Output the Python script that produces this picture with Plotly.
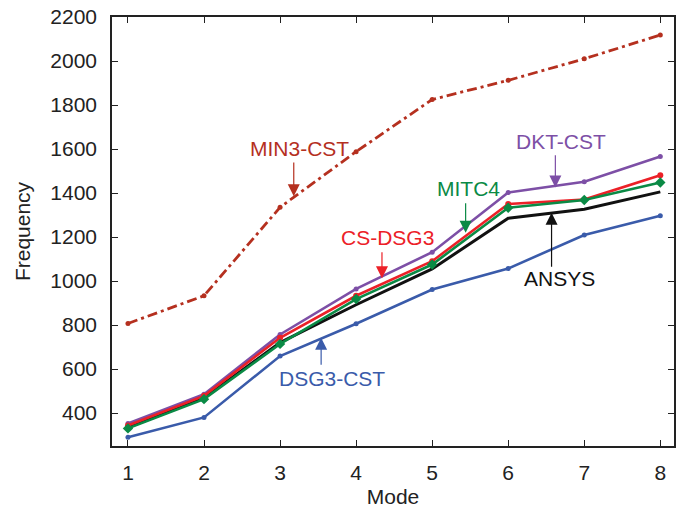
import plotly.graph_objects as go

modes = [1, 2, 3, 4, 5, 6, 7, 8]
min3_cst = [807, 933, 1335, 1588, 1825, 1912, 2010, 2118]
dkt_cst = [352, 485, 757, 964, 1131, 1402, 1451, 1566]
cs_dsg3 = [343, 478, 742, 933, 1090, 1350, 1370, 1481]
mitc4 = [330, 463, 714, 918, 1075, 1333, 1368, 1448]
ansys = [335, 468, 720, 892, 1055, 1285, 1326, 1405]
dsg3_cst = [290, 380, 659, 806, 961, 1057, 1209, 1297]

series = [
    ("MIN3-CST", min3_cst, "#B5301F", "10px,4px,3px,4px", "circle", 5, 2.8),
    ("ANSYS", ansys, "#111111", "solid", None, 0, 3.0),
    ("DSG3-CST", dsg3_cst, "#3A5BAA", "solid", "circle", 5, 2.6),
    ("DKT-CST", dkt_cst, "#7D4FA6", "solid", "circle", 5, 2.6),
    ("CS-DSG3", cs_dsg3, "#EC2027", "solid", "circle", 6, 2.6),
    ("MITC4", mitc4, "#0A8A45", "solid", "diamond", 8, 2.6),
]

fig = go.Figure()
for name, vals, col, dash, sym, ms, lw in series:
    mode = "lines+markers" if sym else "lines"
    fig.add_trace(go.Scatter(
        x=modes, y=vals, name=name, mode=mode,
        line=dict(color=col, width=lw, dash=dash),
        marker=dict(symbol=sym or "circle", size=ms, color=col),
    ))

# (label, color, text x, text y, tail x, tail y, tip x, tip y)
notes = [
    ("MIN3-CST", "#B5301F", 3.26, 1602, 3.18, 1545, 3.18, 1385),
    ("DKT-CST", "#7D4FA6", 6.70, 1632, 6.62, 1578, 6.62, 1425),
    ("MITC4", "#0A8A45", 5.48, 1420, 5.44, 1360, 5.44, 1219),
    ("CS-DSG3", "#EC2027", 4.41, 1196, 4.34, 1137, 4.34, 1012),
    ("ANSYS", "#111111", 6.68, 1012, 6.57, 1058, 6.57, 1310),
    ("DSG3-CST", "#3A5BAA", 3.68, 555, 3.54, 612, 3.54, 742),
]
for lab, col, tx, ty, ax, ay, hx, hy in notes:
    fig.add_annotation(x=tx, y=ty, text=lab, showarrow=False,
                       font=dict(color=col, size=21, family="Liberation Sans"))
    fig.add_annotation(x=hx, y=hy, ax=ax, ay=ay, xref="x", yref="y",
                       axref="x", ayref="y", text="", showarrow=True,
                       arrowhead=2, arrowsize=2.0, arrowwidth=1.2, arrowcolor=col)

fig.update_layout(
    width=681, height=510,
    margin=dict(l=112, r=5, t=17, b=64),
    paper_bgcolor="white", plot_bgcolor="white",
    showlegend=False,
    font=dict(family="Liberation Sans", size=21, color="#222222"),
)
fig.update_xaxes(
    range=[0.79, 8.18], tickvals=modes, ticks="inside", ticklen=6,
    tickcolor="#222222", showline=True, linecolor="#222222", linewidth=1.5,
    mirror="ticks", showgrid=False, zeroline=False, ticklabelstandoff=7,
    title=dict(text="Mode", standoff=6, font=dict(size=21)),
    tickfont=dict(size=21),
)
fig.update_yaxes(
    range=[250, 2200], tickvals=list(range(400, 2201, 200)), ticks="inside",
    ticklen=6, tickcolor="#222222", showline=True, linecolor="#222222",
    linewidth=1.5, mirror="ticks", showgrid=False, zeroline=False,
    ticklabelstandoff=9,
    title=dict(text="Frequency", standoff=14, font=dict(size=21)),
    tickfont=dict(size=21),
)

fig.write_html("out.html")
